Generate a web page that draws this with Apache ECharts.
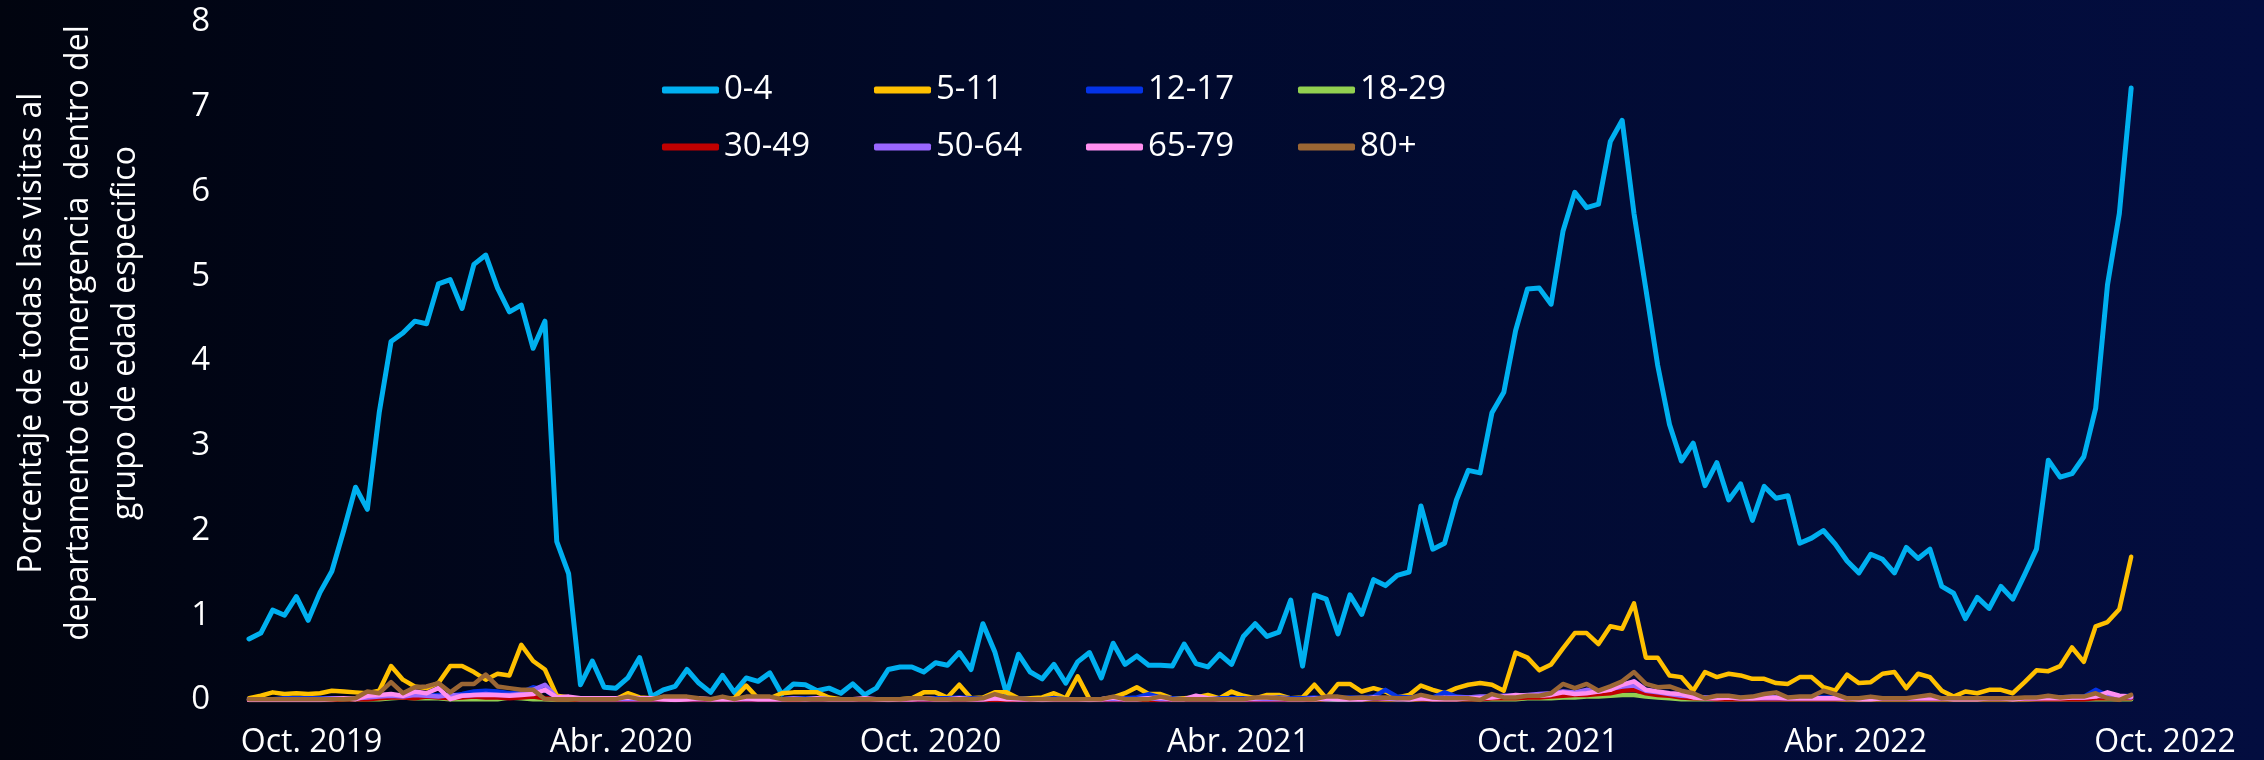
<!DOCTYPE html>
<html>
<head>
<meta charset="utf-8">
<script src="https://cdn.jsdelivr.net/npm/echarts@6/dist/echarts.min.js"></script>
<style>
  html, body { margin: 0; padding: 0; background: #01040f; }
  #main { width: 2264px; height: 760px; }
</style>
</head>
<body>
<div id="main"></div>
<script>
// weekly series, first week starts 2019-08-25
var firstWeek = '2019-08-25';
var ageGroups = ['0-4', '5-11', '12-17', '18-29', '30-49', '50-64', '65-79', '80+'];
var tickDates = ['2019-10-01', '2020-04-01', '2020-10-01', '2021-04-01', '2021-10-01', '2022-04-01', '2022-10-01'];
var tickLabels = ['Oct. 2019', 'Abr. 2020', 'Oct. 2020', 'Abr. 2021', 'Oct. 2021', 'Abr. 2022', 'Oct. 2022'];

var age0_4 = [
  0.72,0.79,1.06,1.00,1.22,0.94,1.27,1.52,2.00,2.51,2.25,3.39,4.23,4.33,4.47,4.44,4.91,4.96,4.62,5.14,
  5.25,4.86,4.58,4.66,4.15,4.47,1.87,1.49,0.18,0.46,0.15,0.14,0.26,0.50,0.04,0.12,0.16,0.36,0.20,0.09,
  0.29,0.09,0.26,0.22,0.32,0.07,0.19,0.18,0.11,0.14,0.08,0.19,0.06,0.14,0.36,0.39,0.39,0.33,0.44,0.41,
  0.56,0.36,0.90,0.57,0.07,0.54,0.33,0.25,0.42,0.20,0.45,0.56,0.26,0.67,0.42,0.52,0.41,0.41,0.40,0.66,
  0.43,0.39,0.54,0.42,0.75,0.90,0.75,0.80,1.18,0.40,1.24,1.19,0.78,1.24,1.01,1.42,1.35,1.47,1.51,2.29,
  1.78,1.85,2.36,2.71,2.68,3.39,3.63,4.36,4.85,4.86,4.67,5.53,5.99,5.81,5.85,6.59,6.84,5.74,4.85,3.95,
  3.25,2.82,3.03,2.53,2.80,2.36,2.55,2.12,2.52,2.38,2.41,1.85,1.91,2.00,1.84,1.64,1.50,1.72,1.66,1.50,
  1.80,1.67,1.78,1.34,1.26,0.96,1.21,1.08,1.34,1.19,1.48,1.78,2.83,2.63,2.67,2.87,3.44,4.90,5.74,7.22
];
var age5_11 = [
  0.02,0.05,0.09,0.07,0.08,0.07,0.08,0.11,0.10,0.09,0.08,0.11,0.40,0.24,0.16,0.14,0.20,0.40,0.40,0.33,
  0.24,0.31,0.29,0.65,0.46,0.36,0.05,0.03,0.01,0.01,0.01,0.01,0.08,0.03,0.02,0.01,0.01,0.01,0.01,0.01,
  0.01,0.02,0.17,0.02,0.02,0.08,0.09,0.09,0.09,0.03,0.01,0.01,0.01,0.01,0.01,0.01,0.02,0.09,0.09,0.03,
  0.18,0.02,0.03,0.09,0.09,0.02,0.02,0.03,0.08,0.02,0.28,0.01,0.01,0.03,0.08,0.15,0.07,0.07,0.02,0.02,
  0.03,0.06,0.02,0.10,0.05,0.02,0.06,0.06,0.02,0.03,0.18,0.02,0.19,0.19,0.10,0.14,0.10,0.03,0.06,0.17,
  0.12,0.08,0.14,0.18,0.20,0.18,0.11,0.56,0.50,0.35,0.42,0.61,0.79,0.79,0.66,0.87,0.84,1.14,0.50,0.50,
  0.29,0.27,0.11,0.33,0.27,0.31,0.29,0.25,0.25,0.20,0.19,0.27,0.27,0.15,0.11,0.30,0.20,0.21,0.31,0.33,
  0.14,0.31,0.27,0.11,0.04,0.10,0.08,0.12,0.12,0.08,0.21,0.35,0.34,0.40,0.62,0.45,0.87,0.92,1.07,1.69
];
var age12_17 = [
  0.01,0.01,0.01,0.02,0.02,0.02,0.02,0.02,0.02,0.02,0.03,0.04,0.05,0.04,0.04,0.05,0.06,0.05,0.07,0.10,
  0.11,0.10,0.08,0.09,0.15,0.12,0.02,0.01,0.01,0.01,0.01,0.01,0.01,0.01,0.01,0.01,0.01,0.01,0.01,0.01,
  0.01,0.01,0.01,0.01,0.01,0.01,0.02,0.02,0.02,0.01,0.01,0.01,0.01,0.01,0.01,0.01,0.01,0.02,0.02,0.02,
  0.03,0.02,0.02,0.03,0.02,0.02,0.01,0.01,0.02,0.01,0.01,0.01,0.01,0.02,0.02,0.03,0.07,0.03,0.02,0.01,
  0.01,0.01,0.02,0.02,0.02,0.02,0.02,0.03,0.02,0.02,0.03,0.02,0.02,0.03,0.03,0.04,0.12,0.04,0.03,0.04,
  0.03,0.09,0.04,0.03,0.03,0.04,0.04,0.05,0.05,0.06,0.07,0.09,0.08,0.10,0.09,0.12,0.15,0.22,0.12,0.08,
  0.07,0.05,0.04,0.03,0.03,0.04,0.03,0.03,0.04,0.03,0.03,0.03,0.03,0.03,0.03,0.02,0.02,0.02,0.02,0.02,
  0.02,0.02,0.02,0.02,0.02,0.02,0.02,0.02,0.02,0.02,0.02,0.03,0.03,0.03,0.04,0.04,0.12,0.05,0.04,0.05
];
var age18_29 = [
  0,0,0,0,0,0,0,0,0.01,0.01,0.01,0.01,0.02,0.03,0.02,0.02,0.02,0.01,0.01,0.01,
  0.01,0.01,0.03,0.02,0.01,0.01,0,0,0,0,0,0,0,0,0,0,0,0,0,0,
  0,0,0,0,0,0,0,0,0,0,0,0,0,0,0,0,0,0,0,0,
  0,0,0,0,0,0,0,0,0,0,0,0,0,0,0,0,0,0,0,0,
  0,0,0,0,0,0,0,0,0,0,0.01,0,0,0,0,0.01,0,0,0,0.01,
  0.01,0.01,0.01,0.01,0.01,0.01,0.01,0.01,0.02,0.02,0.02,0.03,0.03,0.04,0.04,0.05,0.06,0.06,0.04,0.03,
  0.02,0.01,0.01,0.01,0.01,0.01,0.01,0.01,0.01,0.01,0.01,0.01,0.01,0.01,0.01,0,0,0,0,0,
  0,0,0,0,0,0,0,0,0,0,0,0.01,0.01,0.01,0.01,0.01,0.01,0.01,0.01,0.01
];
var age30_49 = [
  0,0,0,0,0,0,0,0,0.01,0.01,0.01,0.02,0.03,0.03,0.02,0.04,0.03,0.02,0.03,0.04,
  0.03,0.03,0.02,0.03,0.04,0.02,0.01,0.01,0,0,0,0,0,0,0,0,0,0,0,0,
  0,0,0,0,0,0,0,0,0,0,0,0,0,0,0,0,0,0,0,0,
  0,0,0,0,0,0,0,0,0,0,0,0,0,0,0,0,0,0,0,0,
  0,0,0,0,0,0,0,0,0,0,0.01,0.01,0.02,0.01,0.01,0.01,0.01,0.01,0.01,0.01,
  0.01,0.01,0.01,0.01,0.01,0.02,0.02,0.02,0.03,0.03,0.04,0.05,0.06,0.06,0.07,0.08,0.11,0.12,0.08,0.06,
  0.05,0.03,0.02,0.02,0.01,0.01,0.01,0.01,0.01,0.01,0.01,0.01,0.01,0.01,0.01,0.01,0.01,0.01,0.01,0.01,
  0.01,0.01,0.01,0.01,0.01,0.01,0.01,0.01,0.01,0.01,0.01,0.01,0.01,0.01,0.01,0.01,0.02,0.02,0.02,0.02
];
var age50_64 = [
  0.01,0.01,0.01,0.01,0.01,0.01,0.01,0.02,0.02,0.02,0.03,0.04,0.05,0.04,0.06,0.05,0.04,0.06,0.05,0.06,
  0.07,0.06,0.06,0.07,0.12,0.18,0.03,0.02,0.01,0.01,0.01,0.01,0.01,0.01,0.01,0.01,0.01,0.01,0.01,0.01,
  0.01,0.01,0.01,0.01,0.01,0.01,0.02,0.01,0.01,0.01,0.01,0.01,0.01,0.01,0.01,0.01,0.01,0.01,0.01,0.01,
  0.01,0.01,0.01,0.02,0.02,0.01,0.01,0.01,0.01,0.01,0.01,0.01,0.01,0.01,0.01,0.01,0.02,0.01,0.01,0.01,
  0.01,0.01,0.01,0.01,0.01,0.01,0.01,0.01,0.01,0.01,0.02,0.01,0.01,0.01,0.01,0.02,0.02,0.01,0.01,0.02,
  0.02,0.03,0.03,0.03,0.04,0.04,0.05,0.05,0.06,0.07,0.08,0.10,0.09,0.12,0.10,0.13,0.16,0.17,0.11,0.09,
  0.07,0.05,0.04,0.03,0.03,0.03,0.02,0.02,0.02,0.02,0.02,0.02,0.02,0.02,0.02,0.02,0.02,0.02,0.02,0.02,
  0.02,0.02,0.02,0.02,0.02,0.02,0.02,0.02,0.02,0.02,0.02,0.02,0.03,0.03,0.03,0.03,0.05,0.04,0.04,0.03
];
var age65_79 = [
  0,0,0,0,0,0,0,0.01,0.02,0.01,0.05,0.06,0.07,0.05,0.10,0.08,0.14,0.01,0.05,0.06,
  0.06,0.06,0.05,0.06,0.07,0.12,0.03,0.04,0.02,0.02,0.02,0.02,0.03,0.02,0.02,0.01,0,0.01,0.02,0.01,
  0.01,0.01,0.02,0.01,0.01,0.01,0.01,0.01,0.02,0.01,0.01,0.01,0.02,0.01,0,0.01,0.01,0.02,0.01,0.01,
  0.02,0.01,0.01,0.02,0.01,0.01,0.01,0,0.01,0.01,0.01,0,0.01,0.03,0.01,0.01,0.02,0.03,0.01,0.01,
  0.05,0.02,0.01,0.01,0.01,0.02,0.03,0.02,0.01,0.01,0.01,0.02,0.01,0.01,0.01,0.03,0.02,0.02,0.01,0.02,
  0.01,0.01,0.01,0.02,0.02,0.03,0.04,0.06,0.05,0.05,0.06,0.09,0.07,0.08,0.10,0.12,0.18,0.22,0.12,0.10,
  0.08,0.07,0.03,0.02,0.02,0.03,0.02,0.02,0.03,0.03,0.02,0.02,0.02,0.02,0.02,0.02,0.01,0.01,0.02,0.02,
  0.02,0.02,0.02,0.02,0.01,0.01,0.01,0.02,0.02,0.01,0.02,0.02,0.02,0.02,0.03,0.03,0.04,0.09,0.05,0.04
];
var age80plus = [
  0.01,0.01,0.01,0.01,0.01,0.01,0.01,0.01,0.01,0.02,0.10,0.08,0.21,0.08,0.15,0.16,0.20,0.09,0.19,0.19,
  0.30,0.16,0.14,0.12,0.12,0.01,0.01,0.01,0.01,0.01,0.01,0.01,0.04,0.01,0.01,0.04,0.04,0.04,0.02,0.01,
  0.04,0.01,0.04,0.04,0.04,0.01,0.01,0.01,0.01,0.01,0.01,0.01,0.01,0.01,0.01,0.01,0.02,0.02,0.01,0.01,
  0.01,0.01,0.02,0.07,0.03,0.02,0.01,0.01,0.01,0.01,0.01,0.01,0.01,0.04,0.01,0.01,0.01,0.04,0.01,0.01,
  0.01,0.01,0.01,0.01,0.01,0.03,0.03,0.02,0.01,0.01,0.01,0.04,0.04,0.02,0.03,0.02,0.03,0.02,0.02,0.06,
  0.03,0.02,0.02,0.02,0.00,0.07,0.03,0.03,0.05,0.05,0.08,0.19,0.14,0.19,0.11,0.16,0.22,0.33,0.19,0.15,
  0.16,0.11,0.08,0.02,0.05,0.05,0.03,0.04,0.07,0.09,0.03,0.04,0.04,0.11,0.07,0.02,0.02,0.04,0.02,0.02,
  0.02,0.04,0.06,0.02,0.02,0.02,0.02,0.02,0.02,0.02,0.03,0.03,0.05,0.03,0.04,0.04,0.08,0.02,0.00,0.06
];

var seriesValues = [age0_4, age5_11, age12_17, age18_29, age30_49, age50_64, age65_79, age80plus];
var colors = ['#00b0f0', '#ffc000', '#0433e6', '#92d050', '#c00000', '#9966ff', '#ff8ff0', '#9b6634'];

var dom = document.getElementById('main');
var myChart = echarts.init(dom, null, { renderer: 'canvas' });

// x is measured in days since the first week
var DAY = 24 * 3600 * 1000;
var start = echarts.time.parse(firstWeek).getTime();
function dayOf(d) {
    return Math.round((echarts.time.parse(d).getTime() - start) / DAY);
}
var weeks = age0_4.map(function (v, i) { return i * 7; });
var tickDays = tickDates.map(dayOf);

var font = '"Open Sans", "Liberation Sans", sans-serif';

var option = {
    backgroundColor: {
        type: 'linear', x: 0, y: 0, x2: 1, y2: 0,
        colorStops: [
            { offset: 0, color: '#01040f' },
            { offset: 0.5, color: '#010a2d' },
            { offset: 1, color: '#030d3f' }
        ]
    },
    animation: false,
    legend: {
        left: 657,
        top: 68,
        width: 900,
        itemWidth: 57,
        itemHeight: 7,
        itemGap: 23,
        icon: 'roundRect',
        data: ageGroups,
        textStyle: {
            color: '#ffffff',
            fontFamily: font,
            fontSize: 33,
            lineHeight: 34,
            width: 127
        }
    },
    grid: {
        left: 247,
        right: 99,
        top: 22,
        bottom: 60
    },
    xAxis: {
        type: 'value',
        min: 0,
        max: tickDays[tickDays.length - 1],
        splitLine: { show: false },
        axisLine: { show: false },
        axisTick: { show: false },
        axisLabel: {
            customValues: tickDays,
            color: '#ffffff',
            fontFamily: font,
            fontSize: 32,
            margin: 27,
            hideOverlap: false,
            formatter: function (value) {
                var best = 0;
                for (var i = 1; i < tickDays.length; i++) {
                    if (Math.abs(tickDays[i] - value) < Math.abs(tickDays[best] - value)) best = i;
                }
                return tickLabels[best];
            }
        }
    },
    yAxis: {
        type: 'value',
        min: 0,
        max: 8,
        interval: 1,
        splitLine: { show: false },
        axisLine: { show: false },
        axisTick: { show: false },
        axisLabel: {
            color: '#ffffff',
            fontFamily: font,
            fontSize: 33,
            margin: 39
        },
        name: 'Porcentaje de todas las visitas al\ndepartamento de emergencia  dentro del\ngrupo de edad especifico',
        nameLocation: 'middle',
        nameRotate: 90,
        nameGap: 100,
        nameTextStyle: {
            color: '#ffffff',
            fontFamily: font,
            fontSize: 32,
            lineHeight: 47,
            align: 'center',
            padding: [0, 0, 0, 56]
        }
    },
    series: ageGroups.map(function (name, k) {
        return {
            name: name,
            type: 'line',
            showSymbol: false,
            symbol: 'none',
            color: colors[k],
            lineStyle: {
                width: k === 0 ? 5 : 4.5,
                color: colors[k],
                join: 'round',
                cap: 'round'
            },
            data: weeks.map(function (d, i) { return [d, seriesValues[k][i]]; })
        };
    })
};

if (option && typeof option === "object") {
    myChart.setOption(option, true);
}
</script>
</body>
</html>
